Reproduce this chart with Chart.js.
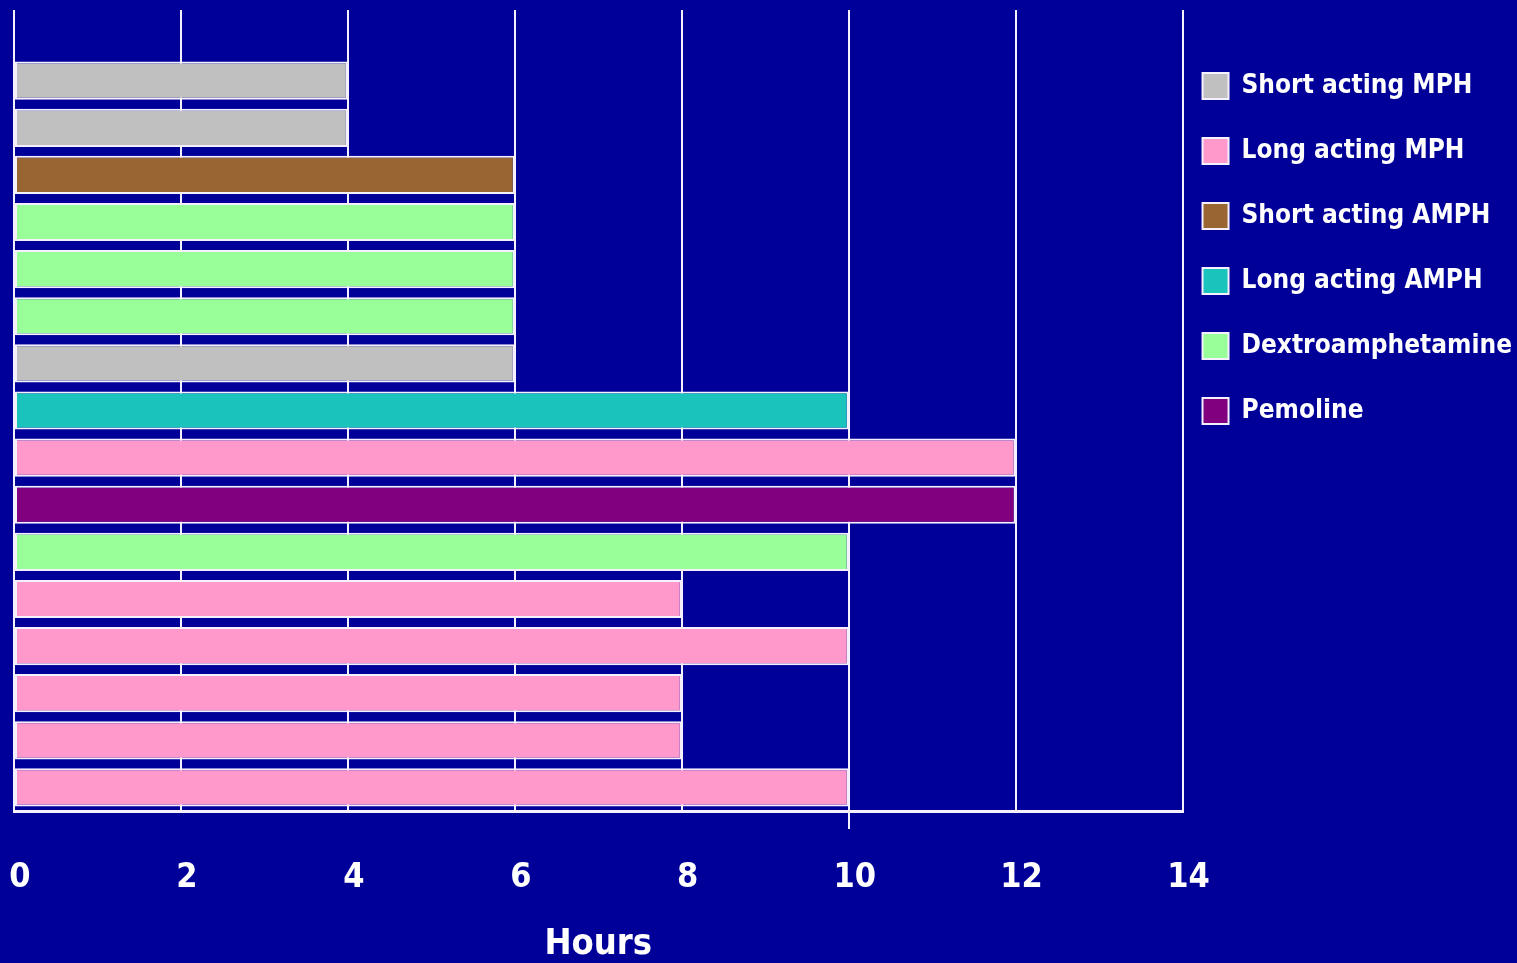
<!DOCTYPE html>
<html>
<head>
<meta charset="utf-8">
<script src="https://cdn.jsdelivr.net/npm/chart.js@4"></script>
<style>
  html, body { margin: 0; padding: 0; background: #000099; }
  #wrap { width: 1517px; height: 963px; }
</style>
</head>
<body>
<div id="wrap"><canvas id="duration-chart"></canvas></div>
<script>
// rows top to bottom, first slot is empty
const categories = ["", "r1", "r2", "r3", "r4", "r5", "r6", "r7", "r8", "r9", "r10", "r11", "r12", "r13", "r14", "r15", "r16"]
const hourTicks = [0, 2, 4, 6, 8, 10, 12, 14]

const shortMPH = [null, 4, 4, null, null, null, null, 6, null, null, null, null, null, null, null, null, null]
const longMPH = [null, null, null, null, null, null, null, null, null, 12, null, null, 8, 10, 8, 8, 10]
const shortAMPH = [null, null, null, 6, null, null, null, null, null, null, null, null, null, null, null, null, null]
const longAMPH = [null, null, null, null, null, null, null, null, 10, null, null, null, null, null, null, null, null]
const dextro = [null, null, null, null, 6, 6, 6, null, null, null, null, 10, null, null, null, null, null]
const pemoline = [null, null, null, null, null, null, null, null, null, null, 12, null, null, null, null, null, null]

const FONT = "'DejaVu Sans Condensed', 'Liberation Sans', sans-serif"
const EDGE = "#f4f0ff"

function ds(label, data, color) {
  return {
    label: label,
    data: data,
    backgroundColor: color,
    borderColor: EDGE,
    borderWidth: 2,
    borderSkipped: false,
    barPercentage: 0.81,
    categoryPercentage: 1,
  }
}

// nudge the legend block so its boxes sit where the original has them
const legendNudge = {
  id: "legendNudge",
  afterLayout(chart) {
    const lg = chart.legend
    if (!lg) return
    lg.left -= 19
    lg.right -= 19
    lg.top += 24
    lg.bottom += 24
  },
}

document.addEventListener("DOMContentLoaded", () => {
  const ctx = document.getElementById("duration-chart")
  new Chart(ctx, {
    type: "bar",
    data: {
      labels: categories,
      datasets: [
        ds("Short acting MPH", shortMPH, "#c0c0c0"),
        ds("Long acting MPH", longMPH, "#ff99cc"),
        ds("Short acting AMPH", shortAMPH, "#996633"),
        ds("Long acting AMPH", longAMPH, "#1ac3bb"),
        ds("Dextroamphetamine", dextro, "#99ff99"),
        ds("Pemoline", pemoline, "#800080"),
      ],
    },
    plugins: [legendNudge],
    options: {
      indexAxis: "y",
      responsive: true,
      maintainAspectRatio: false,
      animation: false,
      layout: {
        padding: { left: 14, top: 10, right: -24, bottom: 0 },
      },
      plugins: {
        legend: {
          position: "right",
          align: "start",
          labels: {
            color: "#ffffff",
            font: { family: FONT, size: 26, weight: "bold" },
            boxWidth: 26,
            boxHeight: 26,
            padding: 39,
          },
        },
        tooltip: { enabled: false },
      },
      scales: {
        x: {
          stacked: true,
          min: 0,
          max: 14,
          afterBuildTicks: (axis) => {
            axis.ticks = hourTicks.map((v) => ({ value: v }))
          },
          afterFit: (axis) => {
            axis.paddingLeft = 0
            axis.paddingRight = 0
          },
          border: { display: true, color: EDGE, width: 3 },
          grid: {
            color: EDGE,
            lineWidth: 2,
            drawTicks: true,
            tickLength: 18,
            tickColor: (c) => (c.tick && c.tick.value === 10 ? EDGE : "rgba(0,0,0,0)"),
          },
          ticks: {
            color: "#ffffff",
            padding: 32,
            labelOffset: 6,
            font: { family: FONT, size: 34, weight: "bold", lineHeight: 1 },
          },
          title: {
            display: true,
            text: "Hours",
            color: "#ffffff",
            font: { family: FONT, size: 36, weight: "bold", lineHeight: 1 },
            padding: { top: 0, bottom: 0 },
          },
        },
        y: {
          stacked: true,
          display: false,
        },
      },
    },
  })
})
</script>
</body>
</html>
